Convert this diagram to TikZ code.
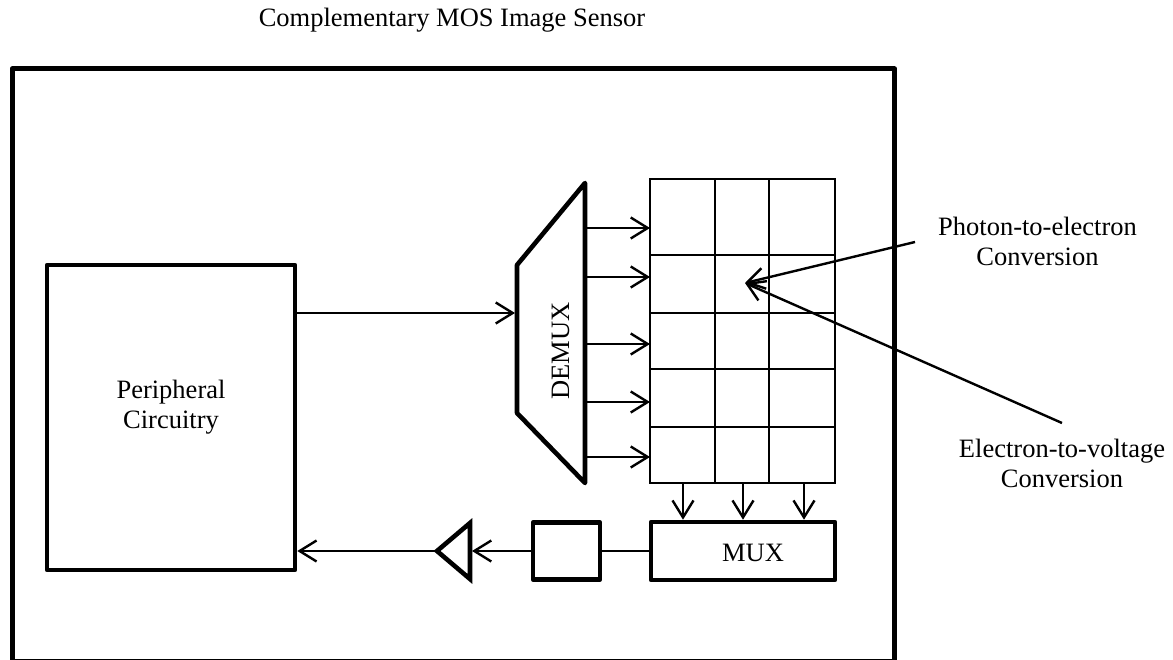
\documentclass[tikz,border=0pt]{standalone}
\usepackage{fontspec}
\setmainfont{Liberation Serif}
\usetikzlibrary{arrows.meta}
\tikzset{
  txt/.style={inner sep=0pt, font=\fontsize{26.5pt}{30pt}\selectfont, align=center},
  heavy/.style={draw, line width=4.6pt, inner sep=0pt, line join=round},
  thinline/.style={line width=2.4pt},
  arr/.style={line width=2.4pt, -{Straight Barb[length=17pt,width=21pt,line width=2.4pt]}},
}
\begin{document}
\begin{tikzpicture}[x=1pt,y=-1pt]
\useasboundingbox (0,0) rectangle (1173,660);
\clip (0,0) rectangle (1173,660);
% title
\node[txt, anchor=base] (title) at (452,27) {Complementary MOS Image Sensor};
% outer chip box
\node[heavy, line width=5pt, minimum width=882.5pt, minimum height=592.5pt] (chip) at (453.25,365.25) {};
% peripheral circuitry
\node[heavy, minimum width=248pt, minimum height=305pt] (per) at (171,417.5) {};
\node[txt] (pertext) at (171,407) {Peripheral\\Circuitry};
% DEMUX trapezoid
\coordinate (dmtr) at (585,183);
\coordinate (dmtl) at (517,265);
\coordinate (dmbl) at (517,413);
\coordinate (dmbr) at (585,483);
\draw[line width=4.6pt, line join=round] (dmtr) -- (dmtl) -- (dmbl) -- (dmbr) -- cycle;
\node[txt, rotate=90] (demux) at (560.5,351) {DEMUX};
\coordinate (dmin) at (515,313);
\draw[arr] (per.east |- dmin) -- (dmin);
% pixel grid
\coordinate (gtl) at (650,179);
\coordinate (gbr) at (835,483);
\draw[thinline] (gtl) rectangle (gbr);
\draw[thinline] (715,179) -- (715,483);
\draw[thinline] (769,179) -- (769,483);
\draw[thinline] (650,255) -- (835,255);
\draw[thinline] (650,313) -- (835,313);
\draw[thinline] (650,369) -- (835,369);
\draw[thinline] (650,427) -- (835,427);
% DEMUX -> grid arrows
\foreach \yy [count=\i] in {228,277,344,402,457}{
  \coordinate (ra\i) at (587,\yy);
  \draw[arr] (ra\i) -- (ra\i -| gtl);
}
% MUX
\node[heavy, minimum width=184pt, minimum height=58pt] (mux) at (743,551) {};
\node[txt] (muxtext) at (753,553) {MUX};
\foreach \xx [count=\i] in {683,743,804}{
  \coordinate (da\i) at (\xx,484);
  \draw[arr] (da\i) -- (da\i |- mux.north);
}
% sample box
\node[heavy, minimum width=67pt, minimum height=57pt] (sbox) at (566.5,551) {};
\draw[thinline] (sbox.east) -- (mux.west);
% buffer triangle
\coordinate (tritip) at (437,551);
\coordinate (tritop) at (470,523);
\coordinate (tribot) at (470,579);
\coordinate (triin) at (472,551);
\coordinate (triout) at (435,551);
\draw[line width=4.6pt, line join=miter] (tritip) -- (tritop) -- (tribot) -- cycle;
\draw[arr] (sbox.west) -- (triin);
\draw[arr] (triout) -- (per.east |- triout);
% annotations
\coordinate (pix) at (745,283);
\coordinate (pe) at (915,242);
\coordinate (ev) at (1062,423);
\draw[arr] (pe) -- (pix);
\draw[arr] (ev) -- (pix);
\node[txt] (petext) at (1037.5,241) {Photon-to-electron\\Conversion};
\node[txt] (evtext) at (1062,463) {Electron-to-voltage\\Conversion};
\end{tikzpicture}
\end{document}
